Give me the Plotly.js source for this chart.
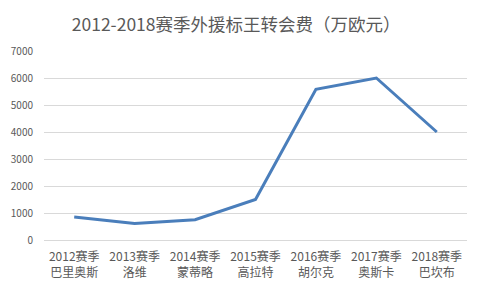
<!DOCTYPE html>
<html><head><meta charset="utf-8">
<script src="https://cdn.plot.ly/plotly-3.0.1.min.js"></script>
<style>html,body{margin:0;padding:0;background:#fff}#c{width:480px;height:289px}</style>
</head><body><div id="c"></div>
<script>
const categories = ["2012赛季<br>巴里奥斯","2013赛季<br>洛维","2014赛季<br>蒙蒂略","2015赛季<br>高拉特","2016赛季<br>胡尔克","2017赛季<br>奥斯卡","2018赛季<br>巴坎布"];
const fees = [850, 610, 750, 1500, 5580, 6000, 4000];
const yTicks = [0,1000,2000,3000,4000,5000,6000,7000];
const font = "'Noto Sans CJK SC', 'Microsoft YaHei', sans-serif";
Plotly.newPlot('c', [{
  x: categories, y: fees, type: 'scatter', mode: 'lines',
  line: {color: '#4a7ebb', width: 3}, hoverinfo: 'none'
}], {
  width: 480, height: 289,
  margin: {l: 44, r: 13, t: 51, b: 49},
  paper_bgcolor: '#fff', plot_bgcolor: '#fff',
  showlegend: false,
  title: {text: '2012-2018赛季外援标王转会费（万欧元）', x: 0.492, xanchor: 'center', y: 0.915, yanchor: 'middle',
    font: {family: font, size: 17.5, color: '#595959'}},
  xaxis: {type: 'category', range: [-0.5, categories.length - 0.5], showgrid: false, zeroline: false, showline: false, ticks: '',
    tickfont: {family: font, size: 12, color: '#595959'}, ticklabelstandoff: 8, fixedrange: true},
  yaxis: {range: [0, 7000], tickvals: yTicks, ticktext: yTicks.map(String), showgrid: true, gridcolor: '#d9d9d9', gridwidth: 1,
    zeroline: true, zerolinecolor: '#d9d9d9', zerolinewidth: 1, showline: false, ticks: '',
    tickfont: {family: font, size: 10, color: '#595959'}, ticklabelstandoff: 10, fixedrange: true}
}, {staticPlot: true});
</script></body></html>
